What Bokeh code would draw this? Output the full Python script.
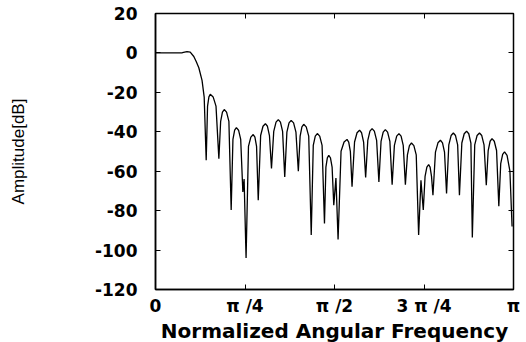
from bokeh.plotting import figure
from bokeh.models import LinearAxis, FixedTicker, Range1d
from bokeh.embed import file_html
from bokeh.resources import INLINE

# Normalized angular frequency (fraction of pi) and amplitude in dB
freq = [0.0, 0.03, 0.06, 0.075, 0.088, 0.097, 0.107, 0.114, 0.121, 0.130, 0.136, 0.1416,
        0.1454, 0.1492, 0.153, 0.161, 0.169, 0.177,
        0.1820, 0.1870, 0.192, 0.1985, 0.2050, 0.2114,
        0.2163, 0.2211, 0.226, 0.232, 0.238, 0.244,
        0.2475, 0.253,
        0.2597, 0.2663, 0.273, 0.2777, 0.2823, 0.287,
        0.2937, 0.3003, 0.307, 0.3127, 0.3183, 0.324,
        0.3303, 0.3367, 0.343, 0.349, 0.355, 0.361,
        0.367, 0.373, 0.379, 0.3857, 0.3923, 0.399,
        0.404, 0.409, 0.414, 0.421, 0.428, 0.435,
        0.4407, 0.4463, 0.452, 0.4587, 0.4653, 0.472,
        0.476, 0.480, 0.484, 0.4887, 0.4933, 0.498,
        0.504, 0.510,
        0.5183, 0.5267, 0.535, 0.5397, 0.5443, 0.549,
        0.556, 0.563, 0.570, 0.5757, 0.5813, 0.587,
        0.593, 0.599, 0.605, 0.6113, 0.6177, 0.624,
        0.630, 0.636, 0.642, 0.6483, 0.6547, 0.661,
        0.6673, 0.6737, 0.680, 0.686, 0.692, 0.698,
        0.7037, 0.7093, 0.715, 0.7217, 0.7283, 0.735,
        0.7415, 0.748,
        0.753, 0.758, 0.763, 0.767, 0.771, 0.775,
        0.782, 0.789, 0.796, 0.8017, 0.8073, 0.813,
        0.8193, 0.8257, 0.832, 0.838, 0.844, 0.849,
        0.8557, 0.8623, 0.869, 0.875, 0.881, 0.885,
        0.8917, 0.8983, 0.905, 0.9113, 0.9177, 0.924,
        0.9293, 0.9347, 0.940, 0.9463, 0.9527, 0.959,
        0.9643, 0.9697, 0.975, 0.982, 0.990, 0.996]
amp = [0.0, 0.0, 0.0, 0.1, 0.7, 0.4, -1.8, -4.5, -7.5, -13.9, -22.4, -54.4,
       -27.0, -22.3, -21.0, -22.3, -27.0, -53.6,
       -34.7, -30.0, -28.7, -30.0, -34.7, -79.7,
       -43.9, -39.2, -37.9, -39.2, -43.9, -70.5,
       -64.0, -104.0,
       -47.4, -42.7, -41.4, -42.7, -47.4, -74.7,
       -41.9, -37.2, -35.9, -37.2, -41.9, -58.6,
       -39.8, -35.1, -33.8, -35.1, -39.8, -62.9,
       -40.2, -35.5, -34.2, -35.5, -40.2, -60.0,
       -42.2, -37.5, -36.2, -37.5, -42.2, -92.4,
       -46.9, -42.2, -40.9, -42.2, -46.9, -86.5,
       -57.9, -53.2, -51.9, -53.2, -57.9, -77.2,
       -63.5, -94.6,
       -49.9, -45.2, -43.9, -45.2, -49.9, -67.9,
       -45.2, -40.5, -39.2, -40.5, -45.2, -63.2,
       -44.4, -39.7, -38.4, -39.7, -44.4, -65.4,
       -44.9, -40.2, -38.9, -40.2, -44.9, -66.8,
       -46.9, -42.2, -40.9, -42.2, -46.9, -66.8,
       -51.7, -47.0, -45.7, -47.0, -51.7, -92.4,
       -64.6, -79.7,
       -62.6, -57.9, -56.6, -57.9, -62.6, -72.2,
       -50.3, -45.6, -44.3, -45.6, -50.3, -71.3,
       -46.6, -41.9, -40.6, -41.9, -46.6, -72.2,
       -45.7, -41.0, -39.7, -41.0, -45.7, -93.6,
       -46.6, -41.9, -40.6, -41.9, -46.6, -67.1,
       -49.5, -44.8, -43.5, -44.8, -49.5, -77.7,
       -56.2, -51.5, -50.2, -52.0, -60.0, -88.0]

x_ticks = [0, 0.25, 0.5, 0.75, 1.0]
x_tick_labels = ["0", "π /4", "π /2", "3 π /4", "π"]
y_ticks = [20, 0, -20, -40, -60, -80, -100, -120]
y_tick_labels = ["20", "0", "-20", "-40", "-60", "-80", "-100", "-120"]

p = figure(frame_width=358, frame_height=276, output_backend="svg", toolbar_location=None,
           x_range=Range1d(0, 1), y_range=Range1d(-120, 20),
           min_border_left=155, min_border_right=13, min_border_top=13, min_border_bottom=53)
p.background_fill_color = "white"
p.border_fill_color = "white"
p.outline_line_color = "black"
p.outline_line_width = 1.5
p.grid.visible = False

p.line(freq, amp, line_color="black", line_width=1.3)

tick_font = "DejaVu Sans"
xa = p.xaxis[0]
xa.ticker = FixedTicker(ticks=x_ticks)
xa.major_label_overrides = {t: l for t, l in zip(x_ticks, x_tick_labels)}
ya = p.yaxis[0]
ya.ticker = FixedTicker(ticks=y_ticks)
ya.major_label_overrides = {t: l for t, l in zip(y_ticks, y_tick_labels)}
for ax in (xa, ya):
    ax.major_tick_in = 5
    ax.major_tick_out = 0
    ax.minor_tick_line_color = None
    ax.axis_line_color = "black"
    ax.axis_line_width = 1.5
    ax.major_label_text_font = tick_font
    ax.major_label_text_font_style = "bold"
    ax.major_label_text_font_size = "17px"
    ax.major_label_text_color = "black"
xa.major_label_standoff = 6
ya.major_label_standoff = 18

xa.axis_label = "Normalized Angular Frequency"
xa.axis_label_text_font = "DejaVu Sans"
xa.axis_label_text_font_style = "bold"
xa.axis_label_text_font_size = "20px"
xa.axis_label_text_color = "black"
xa.axis_label_standoff = 0

ya.axis_label = "Amplitude[dB]"
ya.axis_label_text_font = "Liberation Sans"
ya.axis_label_text_font_style = "normal"
ya.axis_label_text_font_size = "17px"
ya.axis_label_text_color = "black"
ya.axis_label_standoff = 64

top = LinearAxis(ticker=FixedTicker(ticks=x_ticks),
                 major_label_overrides={t: "" for t in x_ticks},
                 major_tick_in=5, major_tick_out=0, minor_tick_line_color=None,
                 major_label_standoff=0, axis_line_color="black")
right = LinearAxis(ticker=FixedTicker(ticks=y_ticks),
                   major_label_overrides={t: "" for t in y_ticks},
                   major_tick_in=5, major_tick_out=0, minor_tick_line_color=None,
                   major_label_standoff=0, axis_line_color="black")
p.add_layout(top, "above")
p.add_layout(right, "right")

open("out.html", "w").write(file_html(p, INLINE))
